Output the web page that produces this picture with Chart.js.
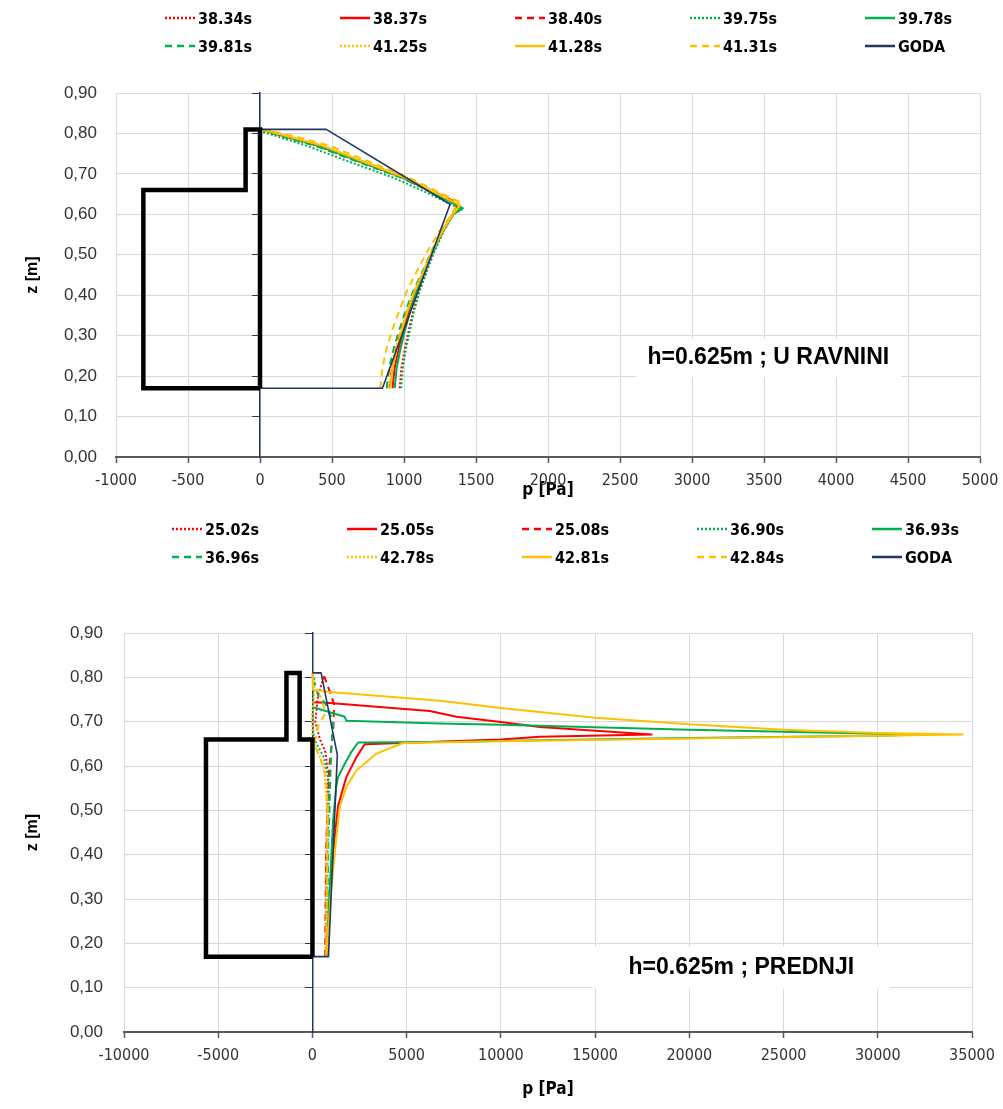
<!DOCTYPE html>
<html>
<head>
<meta charset="utf-8">
<script src="https://cdn.jsdelivr.net/npm/chart.js@4.4.1/dist/chart.umd.min.js"></script>
<style>
  html, body { margin: 0; padding: 0; background: #fff; }
  body { width: 1003px; height: 1109px; position: relative; overflow: hidden; }
  .box { position: absolute; left: 0; width: 1003px; }
  .legend { position: absolute; display: grid; grid-template-columns: repeat(5, 175px); row-gap: 8px;
            font: bold 16px 'Liberation Sans Narrow', 'DejaVu Sans Condensed', 'Liberation Sans', sans-serif; color: #000; }
  .legend .item { display: flex; align-items: center; height: 20px; }
  .legend svg { margin-right: 3px; }
</style>
</head>
<body>
<div class="box" style="top:0;height:505px"><canvas id="c1"></canvas></div>
<div class="legend" id="leg1" style="left:165px;top:8px"></div>
<div class="box" style="top:505px;height:604px"><canvas id="c2"></canvas></div>
<div class="legend" id="leg2" style="left:172px;top:519px"></div>
<script>
// axis ticks
const zTicks = [0, 0.1, 0.2, 0.3, 0.4, 0.5, 0.6, 0.7, 0.8, 0.9];
const zTickLabels = ['0,00', '0,10', '0,20', '0,30', '0,40', '0,50', '0,60', '0,70', '0,80', '0,90'];
const pTicksTop = [-1000, -500, 0, 500, 1000, 1500, 2000, 2500, 3000, 3500, 4000, 4500, 5000];
const pTicksBottom = [-10000, -5000, 0, 5000, 10000, 15000, 20000, 25000, 30000, 35000];

// ---- top chart: h=0.625m ; U RAVNINI   ([p, z] pairs)
const labelsTop = ['38.34s', '38.37s', '38.40s', '39.75s', '39.78s', '39.81s', '41.25s', '41.28s', '41.31s', 'GODA'];
const t3834 = [[970,0.17],[982,0.22],[1007,0.27],[1031,0.31],[1063,0.36],[1105,0.41],[1157,0.46],[1211,0.51],[1276,0.56],[1343,0.60],[1365,0.625],[1190,0.655],[990,0.69],[690,0.73],[390,0.77],[140,0.795],[10,0.81]];
const t3837 = [[920,0.17],[935,0.22],[964,0.27],[994,0.31],[1033,0.36],[1082,0.41],[1142,0.46],[1201,0.51],[1271,0.56],[1340,0.60],[1370,0.625],[1195,0.655],[1000,0.69],[705,0.73],[410,0.77],[155,0.795],[10,0.81]];
const t3840 = [[900,0.17],[916,0.22],[947,0.27],[979,0.31],[1021,0.36],[1073,0.41],[1136,0.46],[1197,0.51],[1269,0.56],[1339,0.60],[1375,0.628],[1210,0.655],[1010,0.69],[715,0.73],[420,0.77],[165,0.795],[15,0.81]];
const t3975 = [[980,0.17],[992,0.22],[1015,0.27],[1039,0.31],[1069,0.36],[1109,0.41],[1160,0.46],[1213,0.51],[1277,0.56],[1343,0.60],[1400,0.612],[1150,0.655],[930,0.69],[620,0.73],[320,0.77],[100,0.795],[0,0.805]];
const t3978 = [[935,0.17],[949,0.22],[977,0.27],[1005,0.31],[1042,0.36],[1089,0.41],[1146,0.46],[1204,0.51],[1272,0.56],[1341,0.60],[1410,0.615],[1200,0.655],[1000,0.69],[700,0.73],[410,0.77],[160,0.795],[10,0.81]];
const t3981 = [[880,0.17],[897,0.22],[930,0.27],[964,0.31],[1009,0.36],[1064,0.41],[1130,0.46],[1193,0.51],[1266,0.56],[1338,0.60],[1395,0.617],[1190,0.655],[985,0.69],[680,0.73],[380,0.77],[130,0.795],[5,0.81]];
const t4125 = [[895,0.17],[911,0.22],[943,0.27],[975,0.31],[1018,0.36],[1071,0.41],[1134,0.46],[1196,0.51],[1268,0.56],[1339,0.60],[1385,0.625],[1215,0.655],[1010,0.69],[720,0.73],[440,0.77],[180,0.795],[15,0.81]];
const t4128 = [[905,0.17],[920,0.22],[952,0.27],[982,0.31],[1024,0.36],[1075,0.41],[1137,0.46],[1198,0.51],[1269,0.56],[1339,0.60],[1390,0.622],[1210,0.655],[1010,0.69],[720,0.73],[430,0.77],[170,0.795],[10,0.81]];
const t4131 = [[835,0.17],[850,0.22],[880,0.27],[915,0.31],[965,0.36],[1020,0.41],[1090,0.46],[1165,0.51],[1250,0.56],[1330,0.60],[1380,0.632],[1240,0.655],[1040,0.69],[760,0.73],[480,0.77],[220,0.795],[20,0.81]];
const godaTop = [[0,0.17],[850,0.17],[1320,0.625],[460,0.81],[0,0.81]];
const wallTop = [[0,0.17],[-810,0.17],[-810,0.66],[-100,0.66],[-100,0.81],[0,0.81],[0,0.17]];

// ---- bottom chart: h=0.625m ; PREDNJI
const labelsBottom = ['25.02s', '25.05s', '25.08s', '36.90s', '36.93s', '36.96s', '42.78s', '42.81s', '42.84s', 'GODA'];
const b2502 = [[700,0.17],[720,0.30],[745,0.40],[780,0.50],[820,0.58],[700,0.63],[400,0.66],[150,0.70],[300,0.76],[600,0.80]];
const b2505 = [[745,0.17],[830,0.23],[920,0.30],[1010,0.35],[1100,0.40],[1185,0.44],[1360,0.51],[1800,0.575],[2335,0.62],[2775,0.649],[10000,0.660],[12070,0.666],[18000,0.671],[12070,0.688],[10000,0.699],[7640,0.711],[6225,0.724],[920,0.742],[0,0.744]];
const b2508 = [[680,0.17],[700,0.30],[730,0.40],[790,0.50],[900,0.60],[1100,0.68],[1150,0.74],[900,0.77],[650,0.80],[300,0.81]];
const b3690 = [[760,0.17],[780,0.30],[800,0.40],[850,0.50],[900,0.56],[600,0.62],[100,0.66],[0,0.70],[50,0.76],[100,0.80]];
const b3693 = [[745,0.173],[920,0.327],[1095,0.477],[1270,0.555],[1360,0.575],[1715,0.605],[2070,0.632],[2420,0.653],[6760,0.654],[12070,0.658],[20000,0.663],[30000,0.668],[32500,0.671],[30000,0.673],[25000,0.677],[20000,0.682],[10000,0.693],[6760,0.696],[1800,0.702],[1715,0.711],[0,0.733]];
const b3696 = [[780,0.17],[800,0.30],[830,0.40],[900,0.50],[950,0.58],[1000,0.64],[1100,0.70],[700,0.74],[300,0.76],[100,0.79]];
const b4278 = [[720,0.17],[740,0.30],[760,0.40],[780,0.50],[600,0.60],[200,0.64],[0,0.66],[0,0.72],[100,0.77],[0,0.81]];
const b4281 = [[745,0.173],[1010,0.327],[1270,0.44],[1450,0.508],[1800,0.553],[2335,0.59],[3400,0.628],[4810,0.652],[10000,0.656],[20000,0.662],[30000,0.668],[34500,0.671],[30000,0.6745],[25000,0.682],[20000,0.694],[15000,0.709],[10000,0.731],[6760,0.747],[920,0.767],[30,0.772],[0,0.81]];
const b4284 = [[740,0.17],[760,0.30],[790,0.40],[820,0.50],[700,0.58],[400,0.62],[100,0.65],[300,0.69],[700,0.72],[400,0.76]];
const godaBottom = [[0,0.17],[850,0.17],[1320,0.625],[460,0.81],[0,0.81]];
const wallBottom = [[0,0.17],[-5650,0.17],[-5650,0.66],[-1380,0.66],[-1380,0.81],[-680,0.81],[-680,0.66],[0,0.66],[0,0.17]];

// styles, in legend order
const seriesColors = ['#ff0000', '#ff0000', '#ff0000', '#00b050', '#00b050', '#00b050', '#ffc000', '#ffc000', '#ffc000', '#1f3864'];
const seriesDash = ['dot', 'solid', 'dash', 'dot', 'solid', 'dash', 'dot', 'solid', 'dash', 'solid'];
const dashPatterns = { solid: [], dot: [2, 2], dash: [7, 5] };

const narrow = "'Liberation Sans Narrow', 'DejaVu Sans Condensed', 'Liberation Sans', sans-serif";
const regular = "'Liberation Sans', Arial, sans-serif";

function toPoints(pairs) {
  return pairs.map(p => ({ x: p[0], y: p[1] }));
}

function buildDatasets(labels, series, wall) {
  const sets = labels.map((label, i) => ({
    label: label,
    data: toPoints(series[i]),
    borderColor: seriesColors[i],
    borderWidth: i === 9 ? 1.6 : 2,
    borderDash: dashPatterns[seriesDash[i]],
    borderJoinStyle: 'round',
    pointRadius: 0,
    showLine: true,
    order: 20 - i
  }));
  sets.push({
    label: 'wall',
    data: toPoints(wall),
    borderColor: '#000',
    borderWidth: 4.5,
    borderJoinStyle: 'miter',
    pointRadius: 0,
    showLine: true,
    order: 1
  });
  return sets;
}

function buildLegend(id, labels) {
  const el = document.getElementById(id);
  labels.forEach((label, i) => {
    const item = document.createElement('div');
    item.className = 'item';
    const dash = dashPatterns[seriesDash[i]].join(' ');
    item.innerHTML = '<svg width="30" height="6"><line x1="0" y1="3" x2="30" y2="3" stroke="' + seriesColors[i] +
      '" stroke-width="2.5"' + (dash ? ' stroke-dasharray="' + dash + '"' : '') + '/></svg><span>' + label + '</span>';
    el.appendChild(item);
  });
}

const labelBox = {
  id: 'labelBox',
  beforeDatasetsDraw(chart, args, opts) {
    const ctx = chart.ctx;
    const cx = chart.scales.x.getPixelForValue(opts.x);
    const cy = chart.scales.y.getPixelForValue(opts.y);
    ctx.save();
    ctx.fillStyle = '#fff';
    ctx.fillRect(cx - opts.width / 2, cy - opts.height / 2, opts.width, opts.height);
    ctx.fillStyle = '#000';
    ctx.font = 'bold 23px ' + regular;
    ctx.textAlign = 'center';
    ctx.textBaseline = 'middle';
    ctx.fillText(opts.text, cx, cy);
    ctx.restore();
  }
};

function makeChart(canvasId, cfg) {
  return new Chart(document.getElementById(canvasId), {
    type: 'scatter',
    data: { datasets: buildDatasets(cfg.labels, cfg.series, cfg.wall) },
    options: {
      animation: false,
      responsive: true,
      maintainAspectRatio: false,
      layout: { padding: cfg.padding },
      plugins: {
        legend: { display: false },
        tooltip: { enabled: false },
        labelBox: cfg.box
      },
      scales: {
        x: {
          type: 'linear',
          min: cfg.pTicks[0],
          max: cfg.pTicks[cfg.pTicks.length - 1],
          afterBuildTicks: s => { s.ticks = cfg.pTicks.map(v => ({ value: v })); },
          ticks: { font: { family: narrow, size: 16 }, color: '#333', padding: 8, maxRotation: 0, autoSkip: false,
                   callback: v => String(v) },
          grid: { color: '#d9d9d9', lineWidth: 1, tickColor: '#595959', tickLength: 6, tickWidth: 1.5 },
          border: { color: '#595959', width: 2 },
          title: { display: true, text: 'p [Pa]', color: '#000', font: { family: narrow, size: 17, weight: 'bold' },
                   padding: { top: 0, bottom: cfg.xTitlePad } },
          afterFit: s => { s.height = cfg.xHeight; s.paddingLeft = 0; s.paddingRight = 0; }
        },
        y: {
          type: 'linear',
          min: 0,
          max: 0.9,
          afterBuildTicks: s => { s.ticks = zTicks.map(v => ({ value: v })); },
          ticks: { font: { family: regular, size: 17 }, color: '#333', padding: cfg.yTickPad,
                   callback: (v, i) => zTickLabels[i] },
          grid: { color: '#d9d9d9', lineWidth: 1, drawTicks: false },
          border: { display: false },
          title: { display: true, text: 'z [m]', color: '#000', font: { family: regular, size: 16, weight: 'bold' },
                   padding: { top: 23, bottom: 0 } },
          afterFit: s => { s.width = cfg.yWidth; s.paddingTop = 0; s.paddingBottom = 0; }
        },
        y2: {
          type: 'linear',
          axis: 'y',
          position: { x: 0 },
          min: 0,
          max: 0.9,
          afterBuildTicks: s => { s.ticks = zTicks.map(v => ({ value: v })); },
          ticks: { display: false },
          grid: { drawOnChartArea: false, tickLength: 7, tickColor: '#1f3864', tickWidth: 1 },
          border: { color: '#1f3864', width: 1.5 },
          afterFit: s => { s.paddingTop = 0; s.paddingBottom = 0; }
        }
      }
    },
    plugins: [labelBox]
  });
}

buildLegend('leg1', labelsTop);
buildLegend('leg2', labelsBottom);

makeChart('c1', {
  labels: labelsTop,
  series: [t3834, t3837, t3840, t3975, t3978, t3981, t4125, t4128, t4131, godaTop],
  wall: wallTop,
  pTicks: pTicksTop,
  padding: { left: 0, right: 23, top: 93, bottom: 0 },
  yWidth: 116,
  yTickPad: 19,
  xHeight: 48,
  xTitlePad: 4,
  box: { x: 3530, y: 0.245, width: 266, height: 38, text: 'h=0.625m ; U RAVNINI' }
});

makeChart('c2', {
  labels: labelsBottom,
  series: [b2502, b2505, b2508, b3690, b3693, b3696, b4278, b4281, b4284, godaBottom],
  wall: wallBottom,
  pTicks: pTicksBottom,
  padding: { left: 0, right: 31, top: 128, bottom: 0 },
  yWidth: 124,
  yTickPad: 21,
  xHeight: 77,
  xTitlePad: 9,
  box: { x: 22760, y: 0.145, width: 297, height: 42, text: 'h=0.625m ; PREDNJI' }
});
</script>
</body>
</html>
